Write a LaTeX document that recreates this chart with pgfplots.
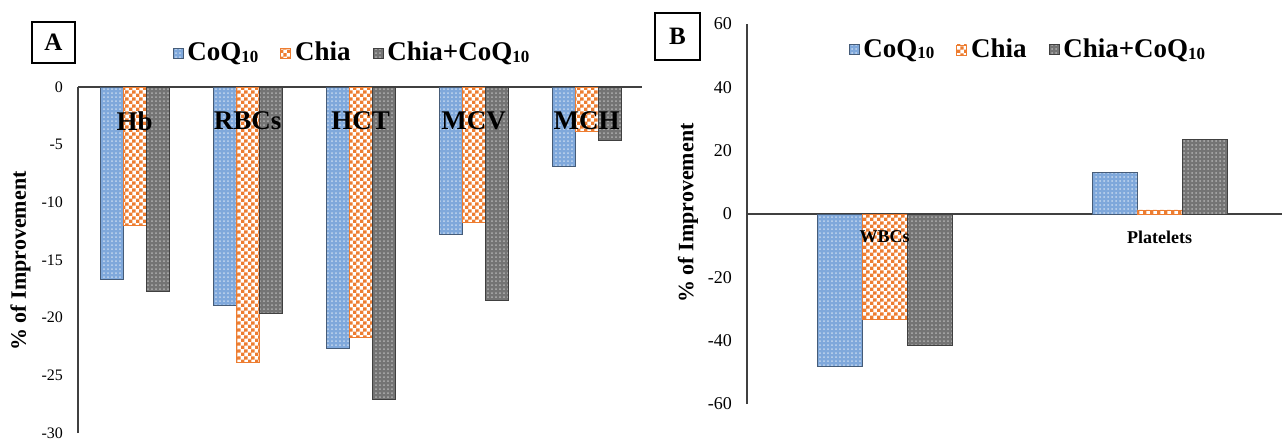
\documentclass[border=0pt]{standalone}
\usepackage{fontspec}
\setmainfont{Liberation Serif}
\usepackage{pgfplots}
\pgfplotsset{compat=1.18}
\usetikzlibrary{patterns}
\definecolor{coqblue}{HTML}{7FA8DB}
\definecolor{chiaor}{HTML}{ED7D31}
\definecolor{combogray}{HTML}{747474}
\pgfdeclarepatternformonly{smallchecker}{\pgfpointorigin}{\pgfqpoint{3.6pt}{3.6pt}}{\pgfqpoint{3.6pt}{3.6pt}}{%
  \pgfpathrectangle{\pgfpointorigin}{\pgfqpoint{1.85pt}{1.85pt}}%
  \pgfpathrectangle{\pgfqpoint{1.8pt}{1.8pt}}{\pgfqpoint{1.85pt}{1.85pt}}%
  \pgfusepath{fill}}
\pgfdeclarepatternformonly{finedots}{\pgfqpoint{-0.5pt}{-0.5pt}}{\pgfqpoint{2.5pt}{2.5pt}}{\pgfqpoint{2pt}{2pt}}{%
  \pgfpathcircle{\pgfpointorigin}{0.5pt}%
  \pgfusepath{fill}}
\pgfplotsset{
  coqstyle/.style={fill=coqblue, draw=coqblue!55!black, line width=0.4pt,
    postaction={pattern=finedots, pattern color=white!55!coqblue}},
  chiastyle/.style={fill=white, draw=chiaor, line width=0.3pt,
    postaction={pattern=smallchecker, pattern color=chiaor}},
  combostyle/.style={fill=combogray, draw=black!75, line width=0.4pt,
    postaction={pattern=finedots, pattern color=black!30}},
  mylegend/.style={
    legend columns=3, draw=none, fill=none,
    font=\bfseries\fontsize{13.5}{15}\selectfont,
    /tikz/every even column/.append style={column sep=9pt},
  },
}
\newcommand{\sub}[1]{\raisebox{-0.12ex}{\fontsize{8.5}{9}\selectfont #1}}
\begin{document}
\begin{tikzpicture}
\path[use as bounding box] (0,0) rectangle (641pt,-220.5pt);

% ---------------- Panel A ----------------
\begin{axis}[
  at={(39pt,-216.5pt)}, anchor=south west,
  scale only axis, width=282pt, height=173pt,
  xmin=-0.5, xmax=4.49, ymin=-30, ymax=0,
  axis y line=left, axis x line=middle,
  axis line style={black!75, line width=0.6pt, -},
  xtick=\empty, ytick={-30,-25,...,0},
  major tick length=0pt,
  ybar=0pt, bar width=11.5pt,
  /pgf/number format/assume math mode=true,
  yticklabel style={font=\fontsize{8}{9}\selectfont, xshift=-4pt},
  clip=false,
  legend image code/.code={\draw[#1] (0pt,-2.5pt) rectangle (5pt,2.5pt);},
  legend style={mylegend, at={(0.4876,1.098)}, anchor=center},
]
\addplot[coqstyle] coordinates {(0,-16.7) (1,-18.9) (2,-22.7) (3,-12.8) (4,-6.9)};
\addplot[chiastyle] coordinates {(0,-12.0) (1,-23.9) (2,-21.7) (3,-11.7) (4,-3.8)};
\addplot[combostyle] coordinates {(0,-17.7) (1,-19.6) (2,-27.1) (3,-18.5) (4,-4.6)};
\legend{CoQ\sub{10}, Chia, Chia+CoQ\sub{10}}
\node[font=\bfseries\fontsize{13.5}{15}\selectfont] at (axis cs:0,-2.95) {Hb};
\node[font=\bfseries\fontsize{13.5}{15}\selectfont] at (axis cs:1,-2.95) {RBCs};
\node[font=\bfseries\fontsize{13.5}{15}\selectfont] at (axis cs:2,-2.95) {HCT};
\node[font=\bfseries\fontsize{13.5}{15}\selectfont] at (axis cs:3,-2.95) {MCV};
\node[font=\bfseries\fontsize{13.5}{15}\selectfont] at (axis cs:4,-2.95) {MCH};
\end{axis}

% ---------------- Panel B ----------------
\begin{axis}[
  at={(373.5pt,-202pt)}, anchor=south west,
  scale only axis, width=267.5pt, height=190pt,
  xmin=-0.5, xmax=1.445, ymin=-60, ymax=60,
  axis y line=left, axis x line=middle,
  axis line style={black!75, line width=0.6pt, -},
  xtick=\empty, ytick={-60,-40,...,60},
  major tick length=0pt,
  ybar=0pt, bar width=22.5pt,
  /pgf/number format/assume math mode=true,
  yticklabel style={font=\fontsize{9}{10}\selectfont, xshift=-4pt},
  clip=false,
  legend image code/.code={\draw[#1] (0pt,-2.5pt) rectangle (5pt,2.5pt);},
  legend style={mylegend, at={(0.527,0.932)}, anchor=center},
]
\addplot[coqstyle] coordinates {(0,-48.0) (1,13.2)};
\addplot[chiastyle] coordinates {(0,-33.2) (1,1.3)};
\addplot[combostyle] coordinates {(0,-41.4) (1,23.4)};
\legend{CoQ\sub{10}, Chia, Chia+CoQ\sub{10}}
\node[font=\bfseries\fontsize{9}{11}\selectfont] at (axis cs:0,-7.3) {WBCs};
\node[font=\bfseries\fontsize{9}{11}\selectfont] at (axis cs:1,-7.3) {Platelets};
\end{axis}

% labels and panel boxes
\node[rotate=90, font=\bfseries\fontsize{11}{13}\selectfont] at (10.25pt,-130.5pt) {\% of Improvement};
\node[rotate=90, font=\bfseries\fontsize{11}{13}\selectfont] at (344pt,-106.5pt) {\% of Improvement};
\node[draw, line width=0.75pt, minimum width=21.5pt, minimum height=20.5pt, inner sep=0pt,
      font=\bfseries\fontsize{12.5}{14}\selectfont] at (26.75pt,-21.25pt) {A};
\node[draw, line width=0.75pt, minimum width=22.5pt, minimum height=23.5pt, inner sep=0pt,
      font=\bfseries\fontsize{12.5}{14}\selectfont] at (338.75pt,-18.25pt) {B};
\end{tikzpicture}
\end{document}
